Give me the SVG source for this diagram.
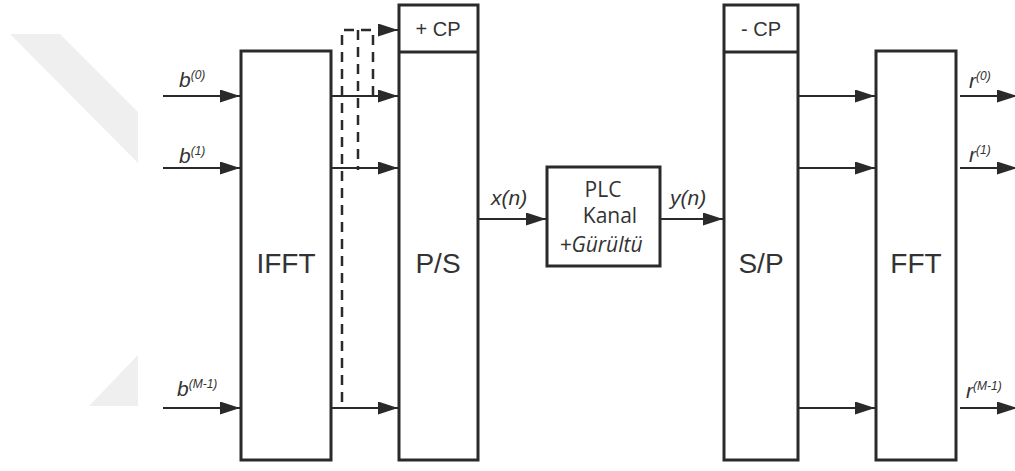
<svg xmlns="http://www.w3.org/2000/svg" width="1015" height="471" viewBox="0 0 1015 471">
<defs>
<style>
.box{fill:#fff;stroke:#2a2a2a;stroke-width:3}
.ln{stroke:#2a2a2a;stroke-width:2;fill:none}
.ar{stroke:#2a2a2a;stroke-width:2;fill:none;marker-end:url(#ah)}
.dash{stroke:#2a2a2a;stroke-width:2.5;fill:none;stroke-dasharray:10 7}
.big{font-family:"Liberation Sans",Arial,sans-serif;font-size:28px;fill:#333;text-anchor:middle}
.cp{font-family:"Liberation Sans",Arial,sans-serif;font-size:20px;fill:#333;text-anchor:middle}
.var{font-family:"Liberation Sans",Arial,sans-serif;font-style:italic;font-size:21px;fill:#333}
.sup{font-size:12px}
.plc{font-family:"Open Sans","Liberation Sans",sans-serif;font-size:21px;fill:#333;text-anchor:middle}
.wm{fill:#efefef}
</style>
<marker id="ah" markerUnits="userSpaceOnUse" markerWidth="20" markerHeight="13" refX="20" refY="6.5" orient="auto">
<path d="M0,0 L20,6.5 L0,13 z" fill="#2a2a2a"/>
</marker>
</defs>
<rect width="1015" height="471" fill="#fff"/>
<g id="watermark">
<polygon class="wm" points="10,34 60,34 138,112 138,163"/>
<polygon class="wm" points="138,355 138,406 89,406"/>
</g>
<g id="connectors">
<line class="ar" x1="163" y1="96" x2="240" y2="96"/>
<line class="ar" x1="163" y1="168" x2="240" y2="168"/>
<line class="ar" x1="163" y1="408" x2="240" y2="408"/>
<line class="ar" x1="332" y1="96" x2="398" y2="96"/>
<line class="ar" x1="332" y1="168" x2="398" y2="168"/>
<line class="ar" x1="332" y1="408" x2="398" y2="408"/>
<path class="dash" d="M342,402 V30 H373 V97"/>
<path class="dash" d="M358,30 V170"/>
<line class="ar" x1="378" y1="30" x2="398" y2="30"/>
<line class="ar" x1="479" y1="219" x2="546" y2="219"/>
<line class="ar" x1="661" y1="219" x2="723" y2="219"/>
<line class="ar" x1="799" y1="96" x2="875" y2="96"/>
<line class="ar" x1="799" y1="168" x2="875" y2="168"/>
<line class="ar" x1="799" y1="408" x2="875" y2="408"/>
<line class="ar" x1="960" y1="96" x2="1017" y2="96"/>
<line class="ar" x1="960" y1="168" x2="1017" y2="168"/>
<line class="ar" x1="960" y1="408" x2="1017" y2="408"/>
</g>
<g id="ifft">
<rect class="box" x="241" y="51" width="90" height="409"/>
<text class="big" x="286" y="273">IFFT</text>
</g>
<g id="ps">
<rect class="box" x="399" y="5" width="79" height="455"/>
<line class="box" x1="399" y1="52" x2="478" y2="52"/>
<text class="cp" x="438" y="36">+ CP</text>
<text class="big" x="438" y="273">P/S</text>
</g>
<g id="plc">
<rect class="box" x="547" y="167" width="113" height="99"/>
<text class="plc" x="603" y="197">PLC</text>
<text class="plc" x="610" y="223">Kanal</text>
<text class="plc" x="601" y="252" font-style="italic">+Gürültü</text>
</g>
<g id="sp">
<rect class="box" x="724" y="5" width="74" height="455"/>
<line class="box" x1="724" y1="52" x2="798" y2="52"/>
<text class="cp" x="761" y="36">- CP</text>
<text class="big" x="761" y="273">S/P</text>
</g>
<g id="fft">
<rect class="box" x="876" y="51" width="80" height="409"/>
<text class="big" x="916" y="273">FFT</text>
</g>
<g id="labels">
<text class="var" x="179" y="87">b<tspan class="sup" dy="-8">(0)</tspan></text>
<text class="var" x="179" y="163">b<tspan class="sup" dy="-8">(1)</tspan></text>
<text class="var" x="177" y="396">b<tspan class="sup" dy="-8">(M-1)</tspan></text>
<text class="var" x="491" y="205">x(n)</text>
<text class="var" x="670" y="205">y(n)</text>
<text class="var" x="969" y="88">r<tspan class="sup" dy="-8">(0)</tspan></text>
<text class="var" x="969" y="162">r<tspan class="sup" dy="-8">(1)</tspan></text>
<text class="var" x="966" y="398">r<tspan class="sup" dy="-8">(M-1)</tspan></text>
</g>
</svg>
